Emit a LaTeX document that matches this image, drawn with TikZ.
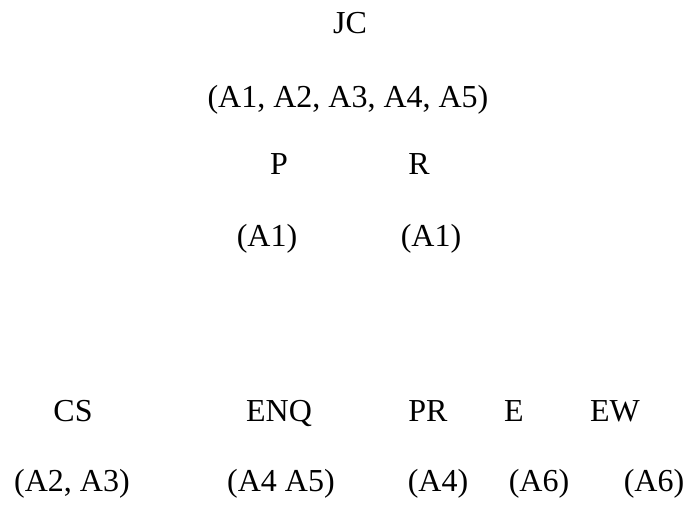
\documentclass[tikz,border=0pt]{standalone}
\usepackage{fontspec}
\setmainfont{Liberation Serif}
\begin{document}
\begin{tikzpicture}[x=1pt,y=-1pt,
  lbl/.style={anchor=base,inner sep=0pt,font=\fontsize{32}{38}\selectfont}]
\useasboundingbox (0,0) rectangle (685,528);
\node[lbl] (jc) at (350,33) {JC};
\node[lbl] (jca) at (348,107) {(A1, A2, A3, A4, A5)};
\node[lbl] (p) at (279,174) {P};
\node[lbl] (r) at (419,174) {R};
\node[lbl] (pa) at (267,246) {(A1)};
\node[lbl] (ra) at (431,246) {(A1)};
\node[lbl] (cs) at (73,421) {CS};
\node[lbl] (enq) at (279,421) {ENQ};
\node[lbl] (pr) at (428,421) {PR};
\node[lbl] (e) at (514,421) {E};
\node[lbl] (ew) at (615,421) {EW};
\node[lbl] (csa) at (72,491) {(A2, A3)};
\node[lbl] (enqa) at (281,491) {(A4 A5)};
\node[lbl] (pra) at (438,491) {(A4)};
\node[lbl] (ea) at (539,491) {(A6)};
\node[lbl] (ewa) at (654,491) {(A6)};
\end{tikzpicture}
\end{document}
